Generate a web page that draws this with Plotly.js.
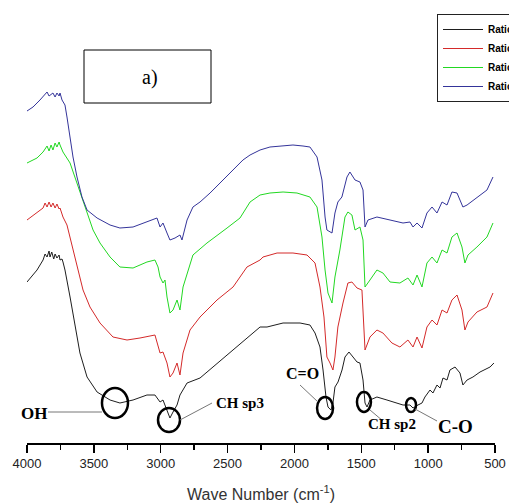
<!DOCTYPE html>
<html>
<head>
<meta charset="utf-8">
<script src="https://cdn.plot.ly/plotly-3.0.1.min.js"></script>
<style>html,body{margin:0;padding:0;background:#fff;}#chart{width:509px;height:503px;}</style>
</head>
<body>
<div id="chart"></div>
<script>
// ---- data (wavenumber, cm-1 ; relative transmittance, arbitrary units) ----
const seriesNames = ["Ratio 1", "Ratio 2", "Ratio 3", "Ratio 4"];

const wnBlack = [4000,3925,3880,3865,3850,3835,3828,3815,3800,3790,3776,3760,3753,3738,3731,3716,3678,3641,3604,3551,3476,3379,3305,3207,3103,3043,3005,2983,2953,2931,2908,2878,2856,2803,2706,2459,2257,2205,2085,1958,1884,1846,1809,1786,1764,1749,1727,1712,1697,1674,1644,1622,1592,1562,1532,1510,1487,1472,1457,1435,1383,1308,1233,1188,1136,1113,1076,1046,1024,986,964,934,911,889,859,837,799,762,740,709,665,612,537,508];
const tBlack  = [161,173,183,189,186,192,186,191,184,189,185,188,183,184,181,173,146,116,90,66,51,43,40,43,48,48,41,43,33,25,31,38,48,60,65,93,116,116,120,120,118,110,96,73,46,36,33,40,56,61,73,86,91,86,81,80,63,40,36,43,46,43,40,38,38,35,38,40,46,53,50,58,55,65,63,73,76,70,58,63,66,71,76,80];

const wnRed = [4000,3925,3880,3865,3850,3835,3820,3806,3790,3776,3760,3753,3731,3701,3663,3626,3581,3529,3454,3357,3252,3155,3043,3005,2983,2953,2931,2908,2878,2856,2833,2781,2706,2579,2459,2355,2257,2235,2130,2011,1906,1846,1809,1779,1757,1734,1712,1697,1675,1637,1600,1570,1532,1495,1472,1435,1383,1338,1271,1211,1151,1113,1083,1046,1009,971,934,896,859,822,784,747,725,702,635,560,515];
const tRed    = [223,230,235,240,236,241,236,240,235,239,234,235,226,218,198,178,153,136,120,106,103,105,108,90,91,80,66,70,80,68,90,113,126,143,156,176,183,186,190,190,188,180,156,126,86,80,73,86,116,140,160,161,155,153,93,106,113,110,100,96,103,96,106,95,116,123,118,133,130,143,148,133,113,121,131,136,150];

const wnGreen = [4000,3925,3880,3850,3835,3820,3806,3790,3776,3760,3753,3731,3678,3626,3589,3551,3506,3454,3379,3305,3207,3103,3043,3020,3005,2983,2968,2953,2931,2908,2878,2856,2833,2759,2654,2504,2407,2332,2257,2183,2085,1981,1884,1831,1794,1771,1749,1719,1697,1660,1622,1600,1570,1547,1510,1487,1472,1435,1383,1338,1285,1211,1151,1113,1083,1046,1009,971,934,896,859,822,784,747,725,702,635,560,515];
const tGreen  = [280,285,291,297,292,298,293,300,296,301,298,291,280,260,246,230,213,200,186,176,175,181,183,176,166,160,163,146,130,133,143,133,156,188,200,215,225,241,248,250,251,250,246,236,206,173,150,140,166,193,226,231,228,213,216,203,156,163,173,170,161,160,165,158,168,156,180,186,180,193,190,206,210,196,180,188,196,206,220];

const wnBlue = [4000,3955,3903,3865,3850,3835,3806,3790,3776,3760,3753,3738,3716,3701,3678,3656,3626,3589,3551,3476,3379,3305,3207,3103,3028,3005,2983,2953,2931,2893,2856,2841,2803,2759,2706,2631,2557,2459,2385,2332,2257,2183,2085,2011,1936,1884,1831,1794,1771,1757,1719,1697,1675,1645,1607,1585,1547,1510,1487,1472,1450,1383,1285,1188,1136,1113,1083,1046,1009,971,934,896,859,822,784,740,709,635,560,515];
const tBlue   = [332,336,343,349,351,347,350,346,350,347,350,343,338,326,306,286,266,246,233,225,218,215,216,221,225,216,220,210,203,205,208,203,223,236,241,250,260,273,283,288,293,296,297,298,297,296,286,263,226,213,210,230,241,246,266,271,263,261,253,216,223,226,223,220,221,216,220,215,230,236,230,241,238,251,250,236,238,245,253,266];

const colors = ["#1e1e1e", "#d42a2a", "#22d822", "#34349a"];

// ---- helpers for pixel-placed layout items ----
const L = 27, R = 495, T = 23, B = 443;
const px = x => (x - L) / (R - L);
const py = y => (B - y) / (B - T);

const xs = [wnBlack, wnRed, wnGreen, wnBlue];
const ys = [tBlack, tRed, tGreen, tBlue];
const traces = xs.map((x, i) => ({
  x: x, y: ys[i], type: "scatter", mode: "lines", name: seriesNames[i],
  line: {color: colors[i], width: 1}
}));

// circle markers around peaks (data-anchored, pixel-sized)
const peakWn  = [3342, 2938, 1771, 1480, 1128];
const peakVal = [40, 23, 35, 41, 38];
const peakRx  = [13, 11, 8, 7, 5];
const peakRy  = [15, 12, 11, 10, 7];
const shapes = peakWn.map((w, i) => ({
  type: "circle", xref: "x", yref: "y", xsizemode: "pixel", ysizemode: "pixel",
  xanchor: w, yanchor: peakVal[i],
  x0: -peakRx[i], x1: peakRx[i], y0: -peakRy[i], y1: peakRy[i],
  line: {color: "#000", width: 2.5}
}));
// leader lines
const leaders = [[48,412,102,412],[180,420,212,403],[300,385,318,402],[370,410,383,421],[415,409,437,421]];
leaders.forEach(l => shapes.push({
  type: "line", xref: "paper", yref: "paper",
  x0: px(l[0]), y0: py(l[1]), x1: px(l[2]), y1: py(l[3]),
  line: {color: "#777", width: 1}
}));
// "a)" box
shapes.push({type: "rect", xref: "paper", yref: "paper",
  x0: px(84), x1: px(211), y0: py(103), y1: py(50),
  line: {color: "#000", width: 1}, fillcolor: "rgba(0,0,0,0)"});

const labels = [["OH",34,413,17],["CH sp3",240,403,15],["C=O",302,373,16],["CH sp2",392,424,15],["C-O",455,426,19]];
const annotations = labels.map(a => ({
  text: "<b>" + a[0] + "</b>", xref: "paper", yref: "paper", x: px(a[1]), y: py(a[2]),
  showarrow: false, xanchor: "center", yanchor: "middle",
  font: {family: "Liberation Serif, Times New Roman, serif", size: a[3], color: "#000"}
}));
annotations.push({text: "a)", xref: "paper", yref: "paper", x: px(150), y: py(77),
  showarrow: false, xanchor: "center", yanchor: "middle",
  font: {family: "Liberation Serif, Times New Roman, serif", size: 20, color: "#000"}});

const layout = {
  width: 509, height: 503,
  margin: {l: L, r: 509 - R, t: T, b: 503 - B, autoexpand: false},
  paper_bgcolor: "#fff", plot_bgcolor: "#fff",
  showlegend: true,
  legend: {xref: "container", yref: "container", x: 437/509, y: 1 - 14/503,
    xanchor: "left", yanchor: "top", bgcolor: "#fff", bordercolor: "#222", borderwidth: 1,
    font: {family: "Liberation Sans, Arial, sans-serif", size: 10, color: "#000", weight: "bold"},
    itemwidth: 40, tracegroupgap: 0},
  xaxis: {
    range: [4000, 500], showgrid: false, zeroline: false,
    showline: true, linecolor: "#000", linewidth: 1.5,
    ticks: "outside", ticklen: 8, tickwidth: 1.5, tickcolor: "#000",
    tick0: 500, dtick: 500,
    minor: {dtick: 250, ticks: "outside", ticklen: 5, tickwidth: 1.5, tickcolor: "#000", showgrid: false},
    tickfont: {family: "Liberation Sans, Arial, sans-serif", size: 13, color: "#222"},
    title: {text: "Wave Number (cm<sup>-1</sup>)", font: {family: "Liberation Sans, Arial, sans-serif", size: 16, color: "#333"}}
  },
  yaxis: {visible: false, range: [0, 420], fixedrange: true},
  shapes: shapes,
  annotations: annotations
};

Plotly.newPlot("chart", traces, layout, {staticPlot: true, displayModeBar: false});
</script>
</body>
</html>
